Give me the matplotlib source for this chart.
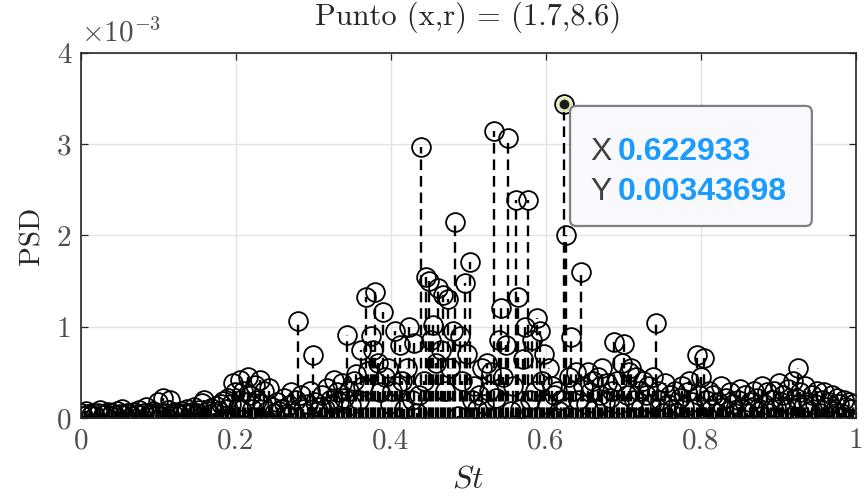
import numpy as np
import matplotlib
matplotlib.use('Agg')
from matplotlib import pyplot as plt
from matplotlib.patches import FancyBboxPatch

plt.rcParams['font.family'] = 'serif'
plt.rcParams['font.serif'] = ['cmr10', 'DejaVu Serif']
plt.rcParams['mathtext.fontset'] = 'cm'
plt.rcParams['axes.unicode_minus'] = False

# frecuencia (St) con resolucion uniforme, el punto 200 es el del datatip
df = 0.622933 / 200
n_pts = 321
st = np.arange(n_pts) * df

# PSD en unidades de 1e-3
psd_e3 = [
    0.05, 0.02, 0.08, 0.04, 0.03, 0.06, 0.02, 0.05, 0.09, 0.03, 0.04, 0.07, 0.02, 0.05, 0.03, 0.08, 0.04, 0.10, 0.03, 0.06,
    0.05, 0.02, 0.07, 0.04, 0.09, 0.03, 0.06, 0.12, 0.04, 0.05, 0.08, 0.03, 0.18, 0.06, 0.22, 0.05, 0.09, 0.20, 0.04, 0.07,
    0.06, 0.03, 0.08, 0.05, 0.10, 0.04, 0.07, 0.12, 0.05, 0.09, 0.16, 0.20, 0.08, 0.04, 0.11, 0.06, 0.13, 0.08, 0.15, 0.19,
    0.10, 0.22, 0.15, 0.38, 0.28, 0.12, 0.42, 0.30, 0.18, 0.45, 0.25, 0.10, 0.36, 0.20, 0.42, 0.15, 0.30, 0.08, 0.33, 0.12,
    0.05, 0.18, 0.08, 0.10, 0.22, 0.04, 0.14, 0.28, 0.06, 0.20, 1.06, 0.25, 0.10, 0.05, 0.15, 0.30, 0.69, 0.18, 0.08, 0.12,
    0.25, 0.10, 0.33, 0.20, 0.15, 0.42, 0.28, 0.18, 0.38, 0.22, 0.91, 0.30, 0.14, 0.40, 0.48, 0.20, 0.75, 0.35, 1.33, 0.52,
    0.90, 0.75, 1.38, 0.60, 0.28, 1.16, 0.45, 0.55, 0.15, 0.30, 0.95, 0.35, 0.80, 0.40, 0.10, 0.55, 1.00, 0.20, 0.82, 0.05,
    0.25, 2.97, 0.40, 1.55, 1.50, 0.85, 1.02, 0.60, 1.42, 0.75, 1.35, 0.30, 1.30, 0.55, 0.95, 2.15, 0.02, 0.90, 0.40, 1.48,
    0.70, 1.71, 0.20, 0.35, 0.10, 0.25, 0.55, 0.15, 0.60, 0.30, 0.50, 3.15, 0.22, 0.85, 1.20, 0.45, 0.80, 3.07, 0.08, 0.35,
    2.39, 1.33, 0.10, 0.65, 1.00, 2.39, 0.20, 0.85, 0.30, 1.10, 0.95, 0.40, 0.70, 0.15, 0.55, 0.35, 0.25, 0.30, 0.08, 0.20,
    3.43698, 2.00, 0.45, 0.89, 0.30, 0.50, 0.20, 1.60, 0.35, 0.15, 0.50, 0.28, 0.40, 0.10, 0.45, 0.25, 0.55, 0.18, 0.38, 0.22,
    0.30, 0.83, 0.40, 0.15, 0.60, 0.81, 0.25, 0.50, 0.55, 0.20, 0.45, 0.30, 0.12, 0.40, 0.25, 0.35, 0.15, 0.45, 1.04, 0.30,
    0.20, 0.05, 0.38, 0.15, 0.25, 0.10, 0.30, 0.05, 0.22, 0.35, 0.12, 0.28, 0.40, 0.18, 0.10, 0.69, 0.25, 0.45, 0.66, 0.20,
    0.30, 0.10, 0.25, 0.05, 0.18, 0.35, 0.12, 0.22, 0.08, 0.28, 0.15, 0.05, 0.20, 0.32, 0.10, 0.25, 0.06, 0.18, 0.12, 0.30,
    0.22, 0.08, 0.35, 0.15, 0.28, 0.05, 0.20, 0.30, 0.12, 0.38, 0.18, 0.25, 0.10, 0.32, 0.15, 0.40, 0.22, 0.55, 0.28, 0.12,
    0.35, 0.18, 0.08, 0.25, 0.15, 0.30, 0.05, 0.20, 0.28, 0.12, 0.18, 0.25, 0.08, 0.22, 0.15, 0.05, 0.20, 0.12, 0.18, 0.10, 0.15,
]
psd_e3 = np.array(psd_e3)
tip_idx = 200

xticks = [0, 0.2, 0.4, 0.6, 0.8, 1]
xticklabels = ['0', '0.2', '0.4', '0.6', '0.8', '1']
yticks = [0, 1, 2, 3, 4]
yticklabels = ['0', '1', '2', '3', '4']

fig = plt.figure(figsize=(8.68, 5.01), dpi=100)
ax = fig.add_axes([0.0933, 0.1657, 0.8929, 0.7285])

markerline, stemlines, baseline = ax.stem(st, psd_e3, linefmt='k--', markerfmt='ko', basefmt='k-')
stemlines.set_linewidth(1.7)
stemlines.set_linestyle((0, (4.5, 2.5)))
markerline.set_markerfacecolor('none')
markerline.set_markeredgecolor('k')
markerline.set_markersize(13.5)
markerline.set_markeredgewidth(1.3)
baseline.set_linewidth(1.4)

# punto seleccionado (datatip)
ax.plot(st[tip_idx], psd_e3[tip_idx], 'o', color='#1a1a1a', ms=9, mec='#e6e6b4', mew=2, zorder=6)

ax.set_xlim(0, 1)
ax.set_ylim(0, 4)
ax.set_xticks(xticks)
ax.set_xticklabels(xticklabels)
ax.set_yticks(yticks)
ax.set_yticklabels(yticklabels)
ax.tick_params(direction='in', top=True, right=True, length=5, width=0.9,
               labelsize=21, colors='#262626', labelcolor='#4d4d4d', pad=7)
ax.grid(True, color='#e3e3e3', linewidth=1)
ax.set_axisbelow(True)
for s in ax.spines.values():
    s.set_color('#262626')
    s.set_linewidth(1.2)

ax.set_title('Punto (x,r) = (1.7,8.6)', fontsize=22, color='#262626', pad=20)
ax.set_xlabel(r'$St$', fontsize=23, color='#262626', labelpad=9)
ax.set_ylabel('PSD', fontsize=21, color='#262626', labelpad=8)
ax.text(0.0, 1.015, r'$\times10^{-3}$', transform=ax.transAxes, fontsize=21,
        color='#4d4d4d', ha='left', va='bottom')

# caja del datatip
box = FancyBboxPatch((0.631, 0.526), 0.312, 0.329, transform=ax.transAxes,
                     boxstyle='round,pad=0,rounding_size=0.008', mutation_aspect=2.12,
                     facecolor='#f8f8fd', edgecolor='#808080', linewidth=1.6,
                     zorder=7, clip_on=False)
ax.add_patch(box)
ax.text(0.657, 0.73, 'X', transform=ax.transAxes, fontsize=23, family='Liberation Sans',
        color='#404040', va='center', zorder=8)
ax.text(0.692, 0.73, '0.622933', transform=ax.transAxes, fontsize=23, family='Liberation Sans',
        fontweight='bold', color='#1a9bff', va='center', zorder=8)
ax.text(0.657, 0.62, 'Y', transform=ax.transAxes, fontsize=23, family='Liberation Sans',
        color='#404040', va='center', zorder=8)
ax.text(0.692, 0.62, '0.00343698', transform=ax.transAxes, fontsize=23, family='Liberation Sans',
        fontweight='bold', color='#1a9bff', va='center', zorder=8)

fig.savefig('out.png', dpi=100)
